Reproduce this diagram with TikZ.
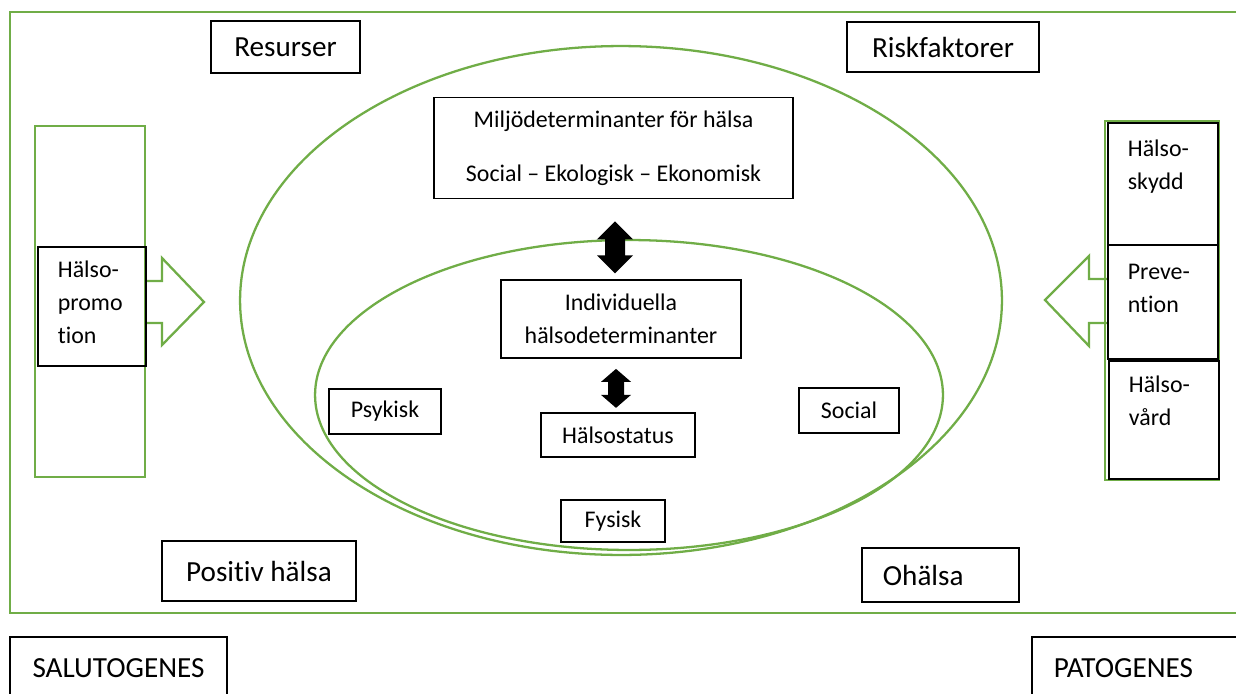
\documentclass[tikz,border=0pt]{standalone}
\usepackage{fontspec}
\setmainfont{Carlito}[Ligatures={TeX,NoCommon}]
\definecolor{halsogron}{HTML}{70AD47}

\begin{document}
\begin{tikzpicture}[x=0.02cm, y=-0.02cm,
    ruta/.style={draw, line width=1pt, inner sep=0pt, font=\fontsize{13.6}{18.6}\selectfont},
    stor/.style={ruta, font=\fontsize{16.6}{20}\selectfont},
    sida/.style={ruta, anchor=north west, text width=1.4cm, align=left, inner xsep=0.4cm, inner ysep=0pt},
    ram/.style={draw=halsogron, line width=1.3pt},
    pil/.style={fill=black}
  ]
  \useasboundingbox (0,0) rectangle (1236,693);

  % Frames and ellipses
  \draw[ram] (10,12) rectangle (1242,613);
  \draw[ram] (621,300.5) ellipse [x radius=7.62cm, y radius=5.09cm];
  \draw[ram] (629,395) ellipse [x radius=6.28cm, y radius=3.1cm];
  \draw[ram] (35,126) rectangle (145,477);
  \draw[ram] (1105,121) rectangle (1219,480);

  % Block arrows
  \draw[ram, line join=miter] (145,281) -- (162,281) -- (162,258) -- (204,302)
    -- (162,345) -- (162,323) -- (145,323);
  \draw[ram, line join=miter] (1107,279) -- (1089,279) -- (1089,256) -- (1045,300)
    -- (1089,346) -- (1089,323) -- (1107,323);

  % Corner labels
  \node[stor, minimum width=2.98cm, minimum height=1.04cm] (res)  at (285.5,47) {Resurser};
  \node[stor, minimum width=3.84cm, minimum height=1.0cm]  (risk) at (943,47) {Riskfaktorer};
  \node[stor, minimum width=3.88cm, minimum height=1.2cm]  (pos)  at (259,571) {Positiv hälsa};
  \node[stor, anchor=west, text width=2.3cm, align=left, inner xsep=0.42cm, minimum height=1.08cm]
    (ohal) at (861,575) {Ohälsa};
  \node[stor, minimum width=4.34cm, minimum height=1.24cm] (salu) at (118.5,668) {SALUTOGENES};
  \node[stor, anchor=west, text width=3.5cm, align=left, inner xsep=0.44cm, minimum height=1.24cm]
    (pato) at (1031,668) {PATOGENES};

  % Determinants
  \node[ruta, minimum width=7.18cm, minimum height=2.02cm, align=center] (milj) at (613.5,148)
    {Miljödeterminanter för hälsa\\[12pt]Social -- Ekologisk -- Ekonomisk};
  \node[ruta, minimum width=4.8cm, minimum height=1.56cm, align=center] (indiv) at (621,319)
    {Individuella\\hälsodeterminanter};
  \node[ruta, minimum width=2.24cm, minimum height=0.9cm]  (psyk)   at (385,411.5) {Psykisk};
  \node[ruta, minimum width=3.08cm, minimum height=0.88cm] (status) at (618,435) {Hälsostatus};
  \node[ruta, minimum width=2.0cm, minimum height=0.9cm]   (soc)    at (849,410.5) {Social};
  \node[ruta, minimum width=2.08cm, minimum height=0.84cm] (fys)    at (613,521) {Fysisk};

  % Double arrows between the boxes
  \fill[pil] (milj.south) ++(1.5,22) -- ++(18,18) -- ++(-8,0) -- ++(0,16) -- ++(8,0)
    -- ++(-18,18) -- ++(-18,-18) -- ++(8,0) -- ++(0,-16) -- ++(-8,0) -- cycle;
  \fill[pil] (indiv.south) ++(-5,10) -- ++(15,13) -- ++(-7,0) -- ++(0,13) -- ++(7,0)
    -- ++(-15,13) -- ++(-15,-13) -- ++(7,0) -- ++(0,-13) -- ++(-7,0) -- cycle;

  % Side columns
  \node[sida, text width=1.36cm, text height=0.62cm, text depth=1.76cm] (promo) at (37,246)
    {Hälso-\\promo\\tion};
  \node[sida, text width=1.4cm, text height=0.68cm, text depth=1.76cm] (skydd) at (1107,122)
    {Hälso-\\skydd};
  \node[sida, text width=1.4cm, text height=0.7cm, text depth=1.58cm] (prev) at (1107,244)
    {Preve-\\ntion};
  \node[sida, text width=1.4cm, text height=0.64cm, text depth=1.72cm] (vard) at (1108,360)
    {Hälso-\\vård};
\end{tikzpicture}
\end{document}
